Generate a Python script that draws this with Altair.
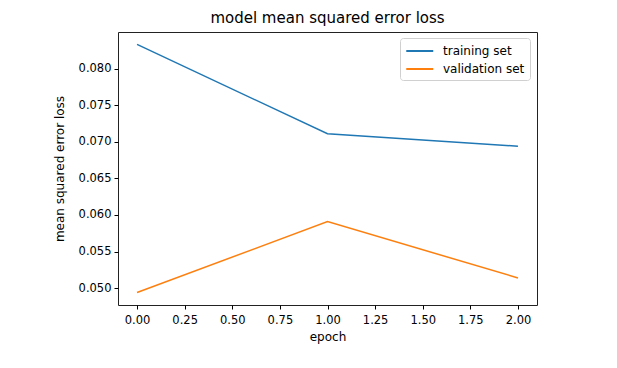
import altair as alt
import pandas as pd

epochs = [0, 1, 2]
training = [0.0833, 0.0711, 0.0694]
validation = [0.0494, 0.0591, 0.0514]
series = ["training set", "validation set"]
colors = ["#1f77b4", "#ff7f0e"]
x_ticks = [0.0, 0.25, 0.5, 0.75, 1.0, 1.25, 1.5, 1.75, 2.0]
y_ticks = [0.050, 0.055, 0.060, 0.065, 0.070, 0.075, 0.080]

df = pd.DataFrame({
    "epoch": epochs + epochs,
    "loss": training + validation,
    "series": [series[0]] * len(epochs) + [series[1]] * len(epochs),
})

font = "DejaVu Sans"

chart = alt.Chart(df).mark_line(strokeWidth=1.5).encode(
    x=alt.X("epoch:Q",
            scale=alt.Scale(domain=[-0.1, 2.1], nice=False, zero=False),
            axis=alt.Axis(values=x_ticks, format=".2f", title="epoch", labelPadding=5,
                          titlePadding=6)),
    y=alt.Y("loss:Q",
            scale=alt.Scale(domain=[0.0477, 0.0850], nice=False, zero=False),
            axis=alt.Axis(values=y_ticks, format=".3f", title="mean squared error loss",
                          titlePadding=12)),
    color=alt.Color("series:N",
                    scale=alt.Scale(domain=series, range=colors),
                    legend=alt.Legend(title=None, orient="none", legendX=282, legendY=6,
                                      symbolType="M-1,0H3", symbolSize=182, symbolStrokeWidth=2,
                                      labelFont=font, labelFontSize=12, labelColor="#000",
                                      fillColor="white", strokeColor="#d0d0d0", cornerRadius=3,
                                      padding=5, rowPadding=4, labelOffset=22)),
).properties(
    width=419,
    height=273,
    title=alt.TitleParams("model mean squared error loss", font=font, fontSize=15,
                          fontWeight="normal", color="#000", offset=6, anchor="middle"),
    padding={"left": 110, "top": 24, "right": 10, "bottom": 50},
    autosize="none",
).configure_view(
    stroke="#222", strokeWidth=1
).configure_axis(
    grid=False, domain=False, tickColor="#000", tickSize=4, tickWidth=1,
    labelFont=font, labelFontSize=11.5, labelColor="#000", labelPadding=3,
    titleFont=font, titleFontSize=12, titleFontWeight="normal", titleColor="#000",
)

chart.save("out.html", embed_options={"renderer": "svg", "actions": False})
